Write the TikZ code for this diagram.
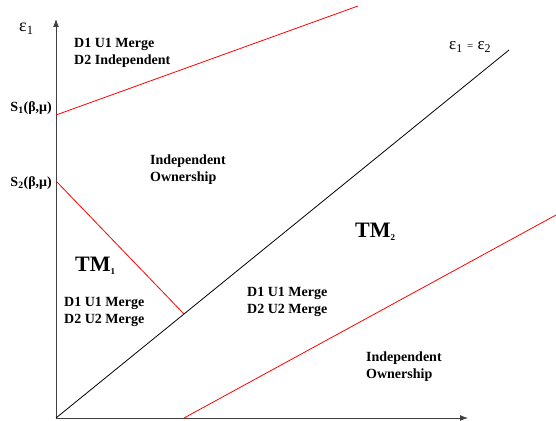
\documentclass[tikz,border=0pt]{standalone}
\usepackage{fontspec}
\setmainfont{Liberation Serif}
\usetikzlibrary{arrows.meta,calc}

\begin{document}
\begin{tikzpicture}[x=1pt, y=1pt, >={Latex[length=8pt,width=6pt]},
  region/.style={font=\fontsize{14}{17}\selectfont\bfseries, align=left, anchor=north west, inner sep=0pt},
  bigtm/.style={font=\fontsize{22}{22}\selectfont\bfseries, anchor=north west, inner sep=0pt},
  boundary/.style={red, line width=0.8pt}]
  \useasboundingbox (0,0) rectangle (556,420);
  % axes
  \coordinate (O) at (56,2);
  \coordinate (ytop) at (56,401);
  \coordinate (xend) at (468,2);
  \draw[->, black!75, line width=1pt] (O) -- (ytop);
  \draw[->, black!75, line width=1pt] (O) -- (xend);
  \node[font=\fontsize{18}{18}\selectfont, anchor=base west, inner sep=0pt] (eps1) at (19,388) {ε\textsubscript{1}};
  % diagonal eps1 = eps2
  \coordinate (dend) at (509,370);
  \draw[black, line width=0.8pt] (O) -- (dend);
  \node[font=\fontsize{17}{17}\selectfont, anchor=base west, inner sep=0pt] (eqlbl) at (449,370) {ε\textsubscript{1} {\fontsize{11}{11}\selectfont =} ε\textsubscript{2}};
  % thresholds on the vertical axis
  \coordinate (S1) at (56,305);
  \coordinate (S2) at (56,239);
  \node[font=\fontsize{14}{14}\selectfont\bfseries, anchor=east, inner sep=0pt] (s1lbl) at (52,312) {S\textsubscript{1}(β,μ)};
  \node[font=\fontsize{14}{14}\selectfont\bfseries, anchor=east, inner sep=0pt] (s2lbl) at (52,237) {S\textsubscript{2}(β,μ)};
  % red boundaries
  \coordinate (s1end) at (358,414);
  \coordinate (s2end) at ($(O)!0.2826!(dend)$);
  \coordinate (lowstart) at (184,2);
  \coordinate (lowend) at (556,205);
  \draw[boundary] (S1) -- (s1end);
  \draw[boundary] (S2) -- (s2end);
  \draw[boundary] (lowstart) -- (lowend);
  % region labels
  \node[region] (topreg) at (74,382) {D1 U1 Merge\\D2 Independent};
  \node[region] (midreg) at (150,265) {Independent\\Ownership};
  \node[bigtm] (tm1) at (75,163) {TM\textsubscript{\fontsize{9}{9}\selectfont 1}};
  \node[region] (leftreg) at (64,123) {D1 U1 Merge\\D2 U2 Merge};
  \node[bigtm] (tm2) at (355,197) {TM\textsubscript{\fontsize{9}{9}\selectfont 2}};
  \node[region] (rightreg) at (247,133) {D1 U1 Merge\\D2 U2 Merge};
  \node[region] (lowreg) at (366,68) {Independent\\Ownership};
\end{tikzpicture}
\end{document}
